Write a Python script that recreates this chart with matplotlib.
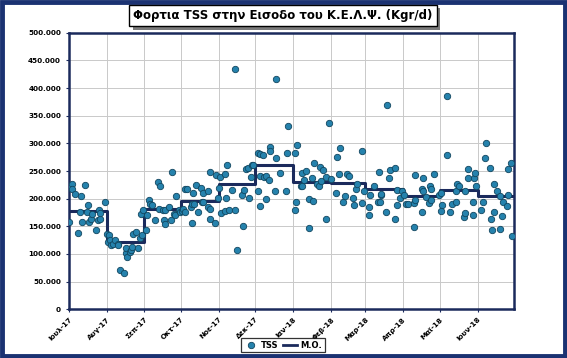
import datetime as dt
import matplotlib
matplotlib.use('Agg')
import matplotlib.pyplot as plt
from matplotlib.patches import Rectangle
from matplotlib.lines import Line2D
from matplotlib.ticker import FuncFormatter, MultipleLocator

month_labels = ['Ιουλ-17', 'Αυγ-17', 'Σεπ-17', 'Οκτ-17', 'Νοε-17', 'Δεκ-17',
                'Ιαν-18', 'Φεβ-18', 'Μαρ-18', 'Απρ-18', 'Μαϊ-18', 'Ιουν-18']
month_starts = ['2017-07-01', '2017-08-01', '2017-09-01', '2017-10-01',
                '2017-11-01', '2017-12-01', '2018-01-01', '2018-02-01',
                '2018-03-01', '2018-04-01', '2018-05-01', '2018-06-01',
                '2018-07-01']

# monthly average (thousand kgr/d)
monthly_mean = [178, 122, 182, 196, 227, 261, 230, 229, 217, 205, 216, 204]

# daily TSS loads per month: day of month / value (thousand kgr/d)
tss_days = [
    [1, 2, 4, 4, 6, 11, 14, 10, 9, 12, 17, 16, 18, 19, 20, 23, 25, 26, 27, 27, 31],
    [1, 2, 3, 4, 5, 6, 8, 10, 10, 12, 15, 17, 17, 18, 20, 21, 22, 23, 25, 27, 28, 30, 29, 31],
    [2, 3, 5, 6, 7, 10, 12, 13, 14, 16, 17, 18, 18, 21, 23, 24, 25, 26, 27, 29, 30],
    [2, 3, 4, 4, 6, 9, 10, 10, 11, 12, 13, 15, 17, 18, 19, 19, 23, 23, 25, 25, 25, 29, 30, 31],
    [1, 2, 3, 6, 6, 7, 8, 9, 14, 14, 16, 20, 21, 22, 23, 25, 26, 28, 29, 12, 27],
    [3, 3, 5, 5, 5, 7, 8, 10, 10, 12, 13, 13, 17, 18, 18, 21, 26, 27, 28],
    [2, 2, 3, 4, 7, 8, 8, 10, 11, 14, 14, 16, 17, 18, 20, 22, 23, 24, 25, 28, 28, 30],
    [1, 5, 6, 7, 8, 11, 12, 14, 16, 19, 20, 21, 22, 26, 26, 28],
    [4, 4, 5, 8, 11, 12, 13, 14, 14, 18, 19, 20, 21, 25, 25, 27, 27, 29, 31],
    [2, 3, 5, 10, 10, 11, 11, 16, 16, 17, 17, 20, 22, 23, 24, 24, 26, 30],
    [2, 3, 2, 7, 7, 9, 11, 14, 14, 15, 17, 21, 22, 22, 24, 24, 28, 28, 29, 30, 31],
    [4, 5, 7, 8, 11, 12, 13, 14, 14, 17, 19, 19, 21, 22, 25, 26, 26, 28, 29],
]
tss_vals = [
    [157, 223, 226, 217, 208, 205, 225, 176, 138, 157, 188, 176, 158, 164, 172, 143, 162, 180, 163, 174, 194],
    [137, 122, 134, 125, 116, 118, 126, 118, 116, 71, 66, 101, 110, 94, 103, 107, 113, 137, 139, 111, 128, 134, 173, 179],
    [143, 170, 197, 191, 188, 161, 231, 182, 222, 179, 161, 154, 180, 185, 162, 249, 173, 170, 205, 179, 176],
    [177, 182, 217, 176, 217, 185, 156, 191, 210, 190, 225, 176, 219, 194, 194, 211, 213, 185, 182, 164, 249, 156, 243, 202],
    [220, 239, 174, 245, 178, 202, 261, 179, 434, 179, 107, 207, 150, 216, 253, 255, 202, 261, 261, 215, 240],
    [282, 214, 280, 241, 187, 279, 240, 241, 200, 234, 293, 287, 213, 273, 416, 246, 213, 283, 331],
    [179, 283, 194, 297, 223, 222, 247, 234, 250, 147, 199, 237, 196, 265, 226, 222, 257, 232, 252, 239, 164, 337],
    [235, 211, 276, 245, 291, 194, 205, 245, 241, 202, 188, 217, 226, 192, 287, 213],
    [170, 185, 207, 222, 194, 249, 194, 207, 208, 176, 370, 237, 252, 255, 164, 216, 188, 202, 213],
    [207, 190, 191, 149, 192, 243, 197, 218, 176, 213, 237, 203, 192, 222, 218, 197, 245, 207],
    [211, 188, 178, 386, 279, 176, 191, 194, 214, 226, 222, 166, 174, 214, 237, 253, 170, 194, 237, 246, 223],
    [179, 194, 273, 300, 255, 164, 144, 176, 226, 214, 204, 146, 168, 194, 187, 207, 253, 265, 133],
]

starts = [dt.datetime.strptime(s, '%Y-%m-%d') for s in month_starts]
dates = []
vals = []
for m in range(12):
    for d, v in zip(tss_days[m], tss_vals[m]):
        dates.append(starts[m].replace(day=d))
        vals.append(v * 1000)

navy = '#1b2a5c'

fig = plt.figure(figsize=(5.67, 3.58), dpi=100)
ax = fig.add_axes([68.7 / 567, 1 - 309.3 / 358, (514.3 - 68.7) / 567, (309.3 - 32.7) / 358])

# mean line as monthly steps
ax.step(starts, [v * 1000 for v in monthly_mean] + [monthly_mean[-1] * 1000],
        where='post', color=navy, lw=2.2, zorder=2)
ax.plot(dates, vals, 'o', ms=4.6, mfc='#2582ad', mec='#11465f', mew=0.6, zorder=3)

ax.set_xlim(starts[0], starts[-1])
ax.set_ylim(0, 500000)
ax.yaxis.set_major_locator(MultipleLocator(50000))
ax.yaxis.set_major_formatter(FuncFormatter(lambda v, p: '{:,.0f}'.format(v).replace(',', '.')))
ax.set_xticks(starts[:-1])
ax.set_xticklabels(month_labels, rotation=45, ha='right', rotation_mode='anchor')
ax.grid(True, color='#c9c9c9', lw=0.7)
ax.set_axisbelow(True)
for s in ax.spines.values():
    s.set_color(navy)
    s.set_linewidth(1.8)
ax.tick_params(axis='both', length=2, color=navy, labelsize=5.2)
for lab in ax.get_xticklabels() + ax.get_yticklabels():
    lab.set_fontweight('bold')
ax.tick_params(axis='x', pad=3)

# outer frame
fig.add_artist(Rectangle((0.003, 0.005), 0.994, 0.99, transform=fig.transFigure,
                         fill=False, edgecolor='#1b3272', lw=3.5))

# title box with a grey shadow behind it
title = 'Φορτια TSS στην Εισοδο του Κ.Ε.Λ.Ψ. (Kgr/d)'
tt = fig.text(283 / 567, 1 - 15.5 / 358, title, ha='center', va='center', fontsize=8.5,
              fontweight='bold', color='black', zorder=5,
              bbox=dict(boxstyle='square,pad=0.35', fc='white', ec='black', lw=1))
fig.canvas.draw()
bb = tt.get_bbox_patch().get_window_extent().transformed(fig.transFigure.inverted())
fig.add_artist(Rectangle((bb.x0 + 3.5 / 567, bb.y0 - 3.5 / 358), bb.width, bb.height,
                         transform=fig.transFigure, fc='#7a7a7a', ec='none', zorder=4))

handles = [Line2D([], [], ls='none', marker='o', ms=4.6, mfc='#2582ad', mec='#11465f', mew=0.6),
           Line2D([], [], color=navy, lw=2)]
leg = fig.legend(handles, ['TSS', 'Μ.Ο.'], loc='center', bbox_to_anchor=(283 / 567, 1 - 345 / 358),
                 ncol=2, fontsize=6, frameon=True, fancybox=False, edgecolor='black',
                 handlelength=1.6, handletextpad=0.4, columnspacing=0.6, borderpad=0.35)
leg.get_frame().set_linewidth(0.9)
for t in leg.get_texts():
    t.set_fontweight('bold')

fig.savefig('out.png', dpi=100)
